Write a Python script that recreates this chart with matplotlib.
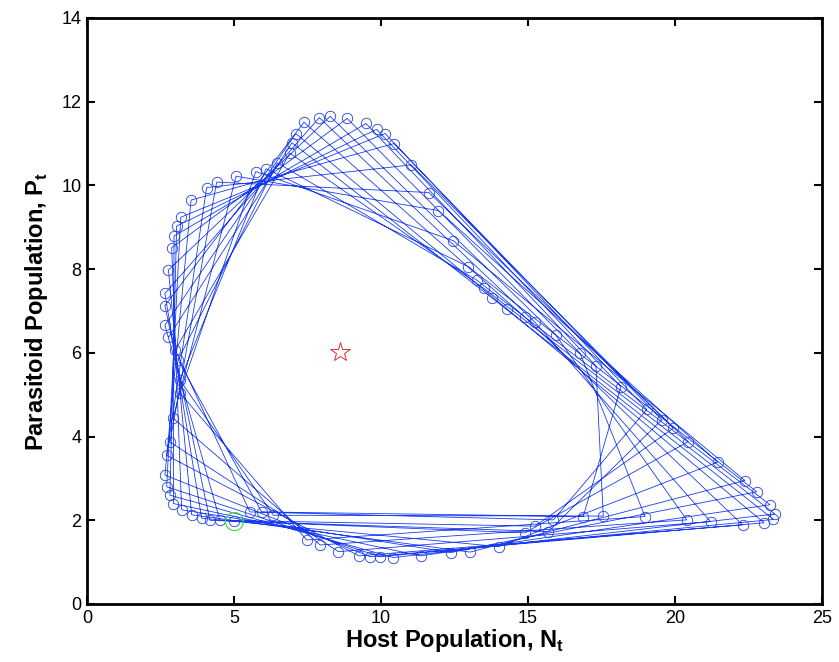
import matplotlib
matplotlib.use("Agg")
import matplotlib.pyplot as plt

plt.rcParams['font.family'] = ['Liberation Sans', 'DejaVu Sans']
plt.rcParams['mathtext.fontset'] = 'custom'
plt.rcParams['mathtext.rm'] = 'Liberation Sans'
plt.rcParams['mathtext.bf'] = 'Liberation Sans:bold'

# Trajectory (host N_t, parasitoid P_t), in generation order
host = [5.00, 15.69, 19.55, 10.44, 3.54, 2.65, 9.63, 23.03, 14.30, 7.10,
        2.65, 4.52, 15.24, 19.94, 11.03, 4.07, 2.71, 9.25, 22.30, 14.90,
        7.38, 2.65, 4.18, 14.90, 20.45, 11.63, 4.41, 2.82, 8.55, 21.21,
        15.24, 7.90, 2.65, 3.90, 14.01, 21.45, 11.95, 5.07, 2.93, 7.93,
        20.40, 15.94, 8.27, 2.77, 3.56, 13.03, 22.38, 12.46, 5.74, 3.16,
        7.47, 18.98, 16.77, 8.85, 2.88, 3.22, 12.38, 22.78, 12.97, 6.09,
        3.16, 6.34, 17.56, 17.31, 9.49, 2.96, 2.94, 11.35, 23.23, 13.25,
        6.47, 3.10, 5.94, 16.88, 18.16, 9.85, 3.05, 2.82, 10.42, 23.40,
        13.50, 6.90, 3.00, 5.54, 15.86, 19.04, 10.14, 3.19, 2.71, 9.97,
        23.35, 13.76, 6.97, 2.77]
parasitoid = [1.98, 1.73, 4.40, 11.00, 9.65, 3.08, 1.13, 1.94, 7.04, 11.24,
              6.66, 2.00, 1.86, 4.20, 10.49, 9.95, 3.55, 1.15, 1.89, 6.85,
              11.51, 7.13, 2.00, 1.70, 3.88, 9.83, 10.08, 3.87, 1.25, 1.97,
              6.73, 11.62, 7.42, 2.05, 1.37, 3.39, 9.40, 10.22, 4.44, 1.41,
              2.01, 6.43, 11.65, 7.98, 2.13, 1.24, 2.95, 8.68, 10.33, 5.04,
              1.53, 2.09, 5.99, 11.60, 8.51, 2.25, 1.23, 2.68, 8.06, 10.40,
              5.35, 2.12, 2.10, 5.69, 11.48, 8.79, 2.40, 1.15, 2.37, 7.74,
              10.54, 5.83, 2.20, 2.09, 5.19, 11.34, 9.03, 2.60, 1.11, 2.15,
              7.54, 10.77, 6.07, 2.20, 2.01, 4.65, 11.24, 9.24, 2.80, 1.13,
              2.02, 7.32, 11.02, 6.37]

equilibrium = (8.60, 6.02)
start = (5.00, 1.98)

xticks = [0, 5, 10, 15, 20, 25]
yticks = [0, 2, 4, 6, 8, 10, 12, 14]

fig = plt.figure(figsize=(8.39, 6.62), dpi=100)
ax = fig.add_axes([87 / 839, 58 / 662, 735 / 839, 586 / 662])

ax.plot(host, parasitoid, '-', color='#1a3cf0', lw=0.6)
ax.plot(host, parasitoid, 'o', mfc='none', mec='#2040e0', ms=7.5, mew=0.6)
ax.plot([equilibrium[0]], [equilibrium[1]], marker='*', mfc='none', mec='#e03030',
        ms=15, mew=0.7, ls='none')
ax.plot([start[0]], [start[1]], marker='o', mfc='none', mec='#33dd33',
        ms=13, mew=0.8, ls='none')

ax.set_xlim(0, 25)
ax.set_ylim(0, 14)
ax.set_xticks(xticks)
ax.set_yticks(yticks)
ax.tick_params(direction='in', length=6, width=1.5, top=True, right=True,
               labelsize=13, pad=4)
for s in ax.spines.values():
    s.set_linewidth(2)

ax.set_xlabel(r'Host Population, N$_{\mathbf{t}}$', fontsize=17, fontweight='bold', labelpad=0)
ax.set_ylabel(r'Parasitoid Population, P$_{\mathbf{t}}$', fontsize=17, fontweight='bold', labelpad=8)

fig.savefig('out.png', dpi=100)
